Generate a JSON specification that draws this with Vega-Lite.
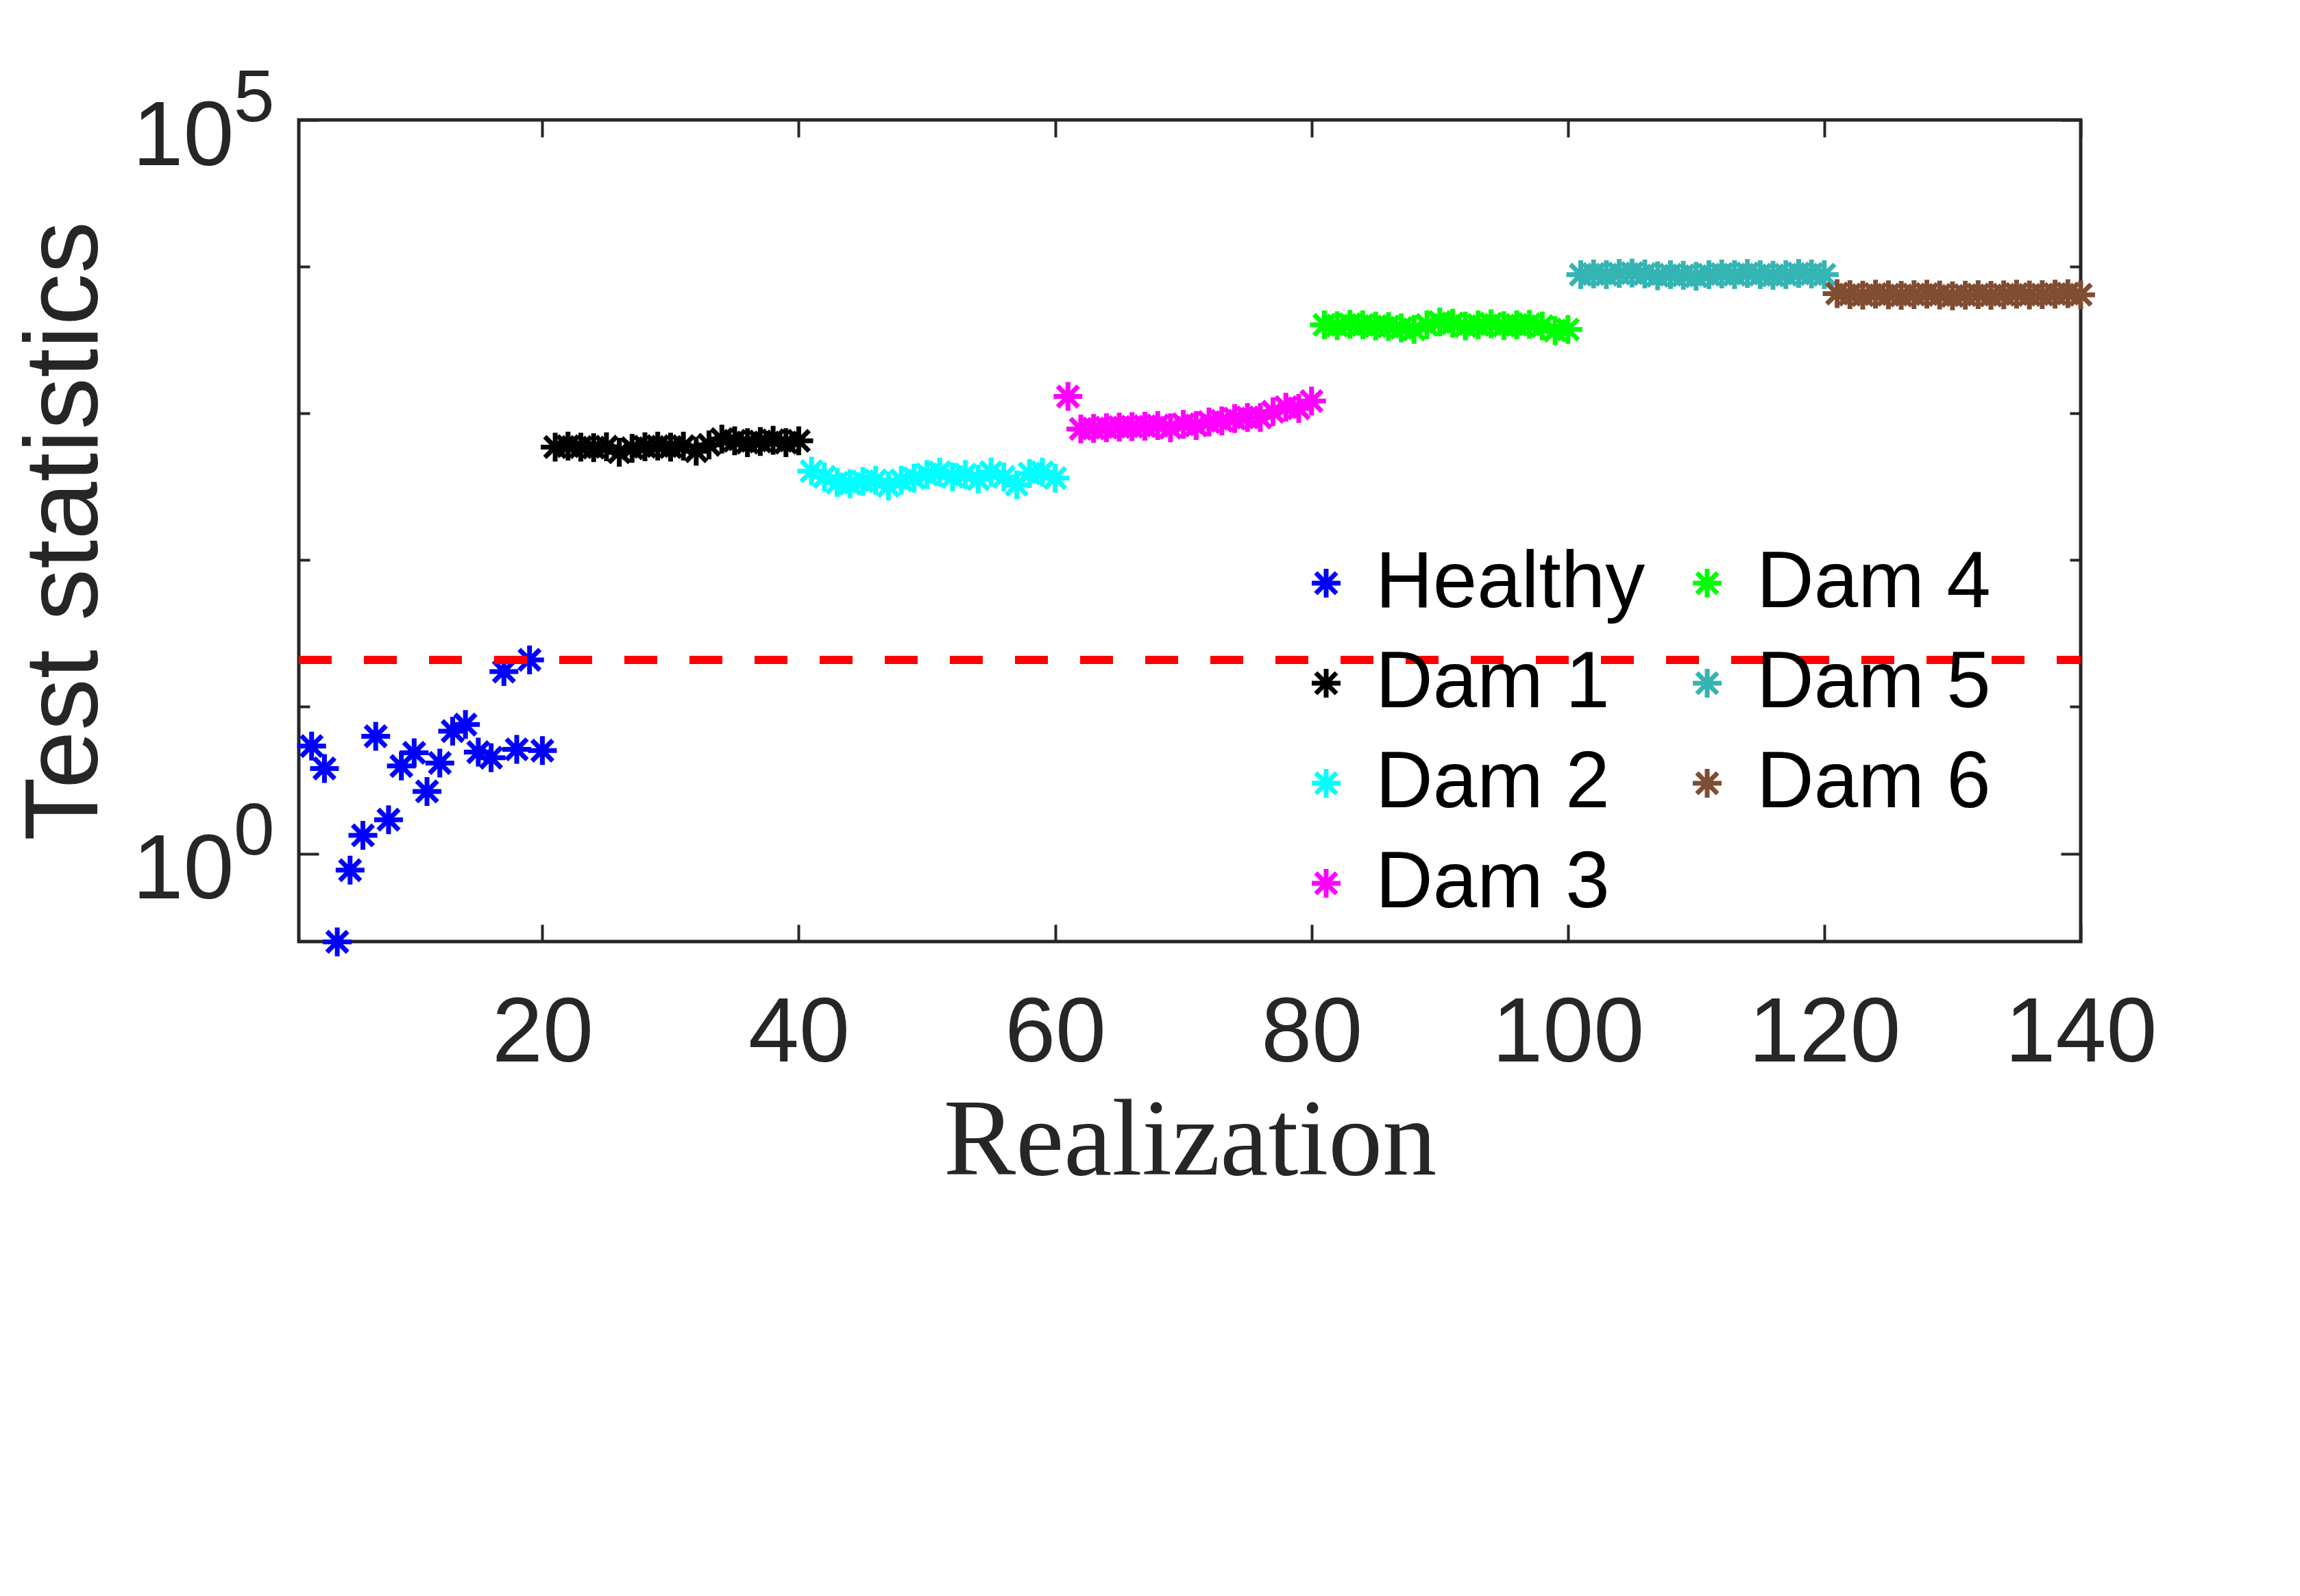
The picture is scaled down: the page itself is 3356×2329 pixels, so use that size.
{
  "$schema": "https://vega.github.io/schema/vega-lite/v6.json",
  "autosize": {"type": "none"},
  "padding": {"left": 436, "top": 175, "right": 320, "bottom": 955},
  "width": 2600,
  "height": 1199,
  "background": "white",
  "config": {
    "view": {"stroke": "#262626", "strokeWidth": 5},
    "font": "Liberation Sans",
    "axis": {
      "domain": false,
      "grid": false,
      "tickColor": "#262626",
      "tickWidth": 4,
      "labelColor": "#262626",
      "labelFont": "Liberation Sans",
      "labelFontSize": 133,
      "labelLimit": 1000,
      "labelFlush": false,
      "labelOverlap": false,
      "titleColor": "#262626",
      "titleLimit": 3000
    }
  },
  "data": {
    "values": [
      {"r": 2, "v": 5.4, "g": "Healthy"}, {"r": 3, "v": 3.8, "g": "Healthy"}, {"r": 4, "v": 0.25, "g": "Healthy"},
      {"r": 5, "v": 0.77, "g": "Healthy"}, {"r": 6, "v": 1.33, "g": "Healthy"}, {"r": 7, "v": 6.3, "g": "Healthy"},
      {"r": 8, "v": 1.7, "g": "Healthy"}, {"r": 9, "v": 3.95, "g": "Healthy"}, {"r": 10, "v": 4.86, "g": "Healthy"},
      {"r": 11, "v": 2.65, "g": "Healthy"}, {"r": 12, "v": 4.14, "g": "Healthy"}, {"r": 13, "v": 6.83, "g": "Healthy"},
      {"r": 14, "v": 7.57, "g": "Healthy"}, {"r": 15, "v": 4.91, "g": "Healthy"}, {"r": 16, "v": 4.5, "g": "Healthy"},
      {"r": 17, "v": 17.4, "g": "Healthy"}, {"r": 18, "v": 5.13, "g": "Healthy"}, {"r": 19, "v": 20.9, "g": "Healthy"},
      {"r": 20, "v": 5.03, "g": "Healthy"},
      {"r": 21, "v": 589, "g": "Dam 1"}, {"r": 22, "v": 598, "g": "Dam 1"}, {"r": 23, "v": 589, "g": "Dam 1"},
      {"r": 24, "v": 584, "g": "Dam 1"}, {"r": 25, "v": 592, "g": "Dam 1"}, {"r": 26, "v": 543, "g": "Dam 1"},
      {"r": 27, "v": 578, "g": "Dam 1"}, {"r": 28, "v": 592, "g": "Dam 1"}, {"r": 29, "v": 598, "g": "Dam 1"},
      {"r": 30, "v": 589, "g": "Dam 1"}, {"r": 31, "v": 598, "g": "Dam 1"}, {"r": 32, "v": 552, "g": "Dam 1"},
      {"r": 33, "v": 610, "g": "Dam 1"}, {"r": 34, "v": 667, "g": "Dam 1"}, {"r": 35, "v": 650, "g": "Dam 1"},
      {"r": 36, "v": 632, "g": "Dam 1"}, {"r": 37, "v": 643, "g": "Dam 1"}, {"r": 38, "v": 655, "g": "Dam 1"},
      {"r": 39, "v": 632, "g": "Dam 1"}, {"r": 40, "v": 650, "g": "Dam 1"},
      {"r": 41, "v": 404, "g": "Dam 2"}, {"r": 42, "v": 369, "g": "Dam 2"}, {"r": 43, "v": 337, "g": "Dam 2"},
      {"r": 44, "v": 331, "g": "Dam 2"}, {"r": 45, "v": 344, "g": "Dam 2"}, {"r": 46, "v": 350, "g": "Dam 2"},
      {"r": 47, "v": 320, "g": "Dam 2"}, {"r": 48, "v": 350, "g": "Dam 2"}, {"r": 49, "v": 362, "g": "Dam 2"},
      {"r": 50, "v": 383, "g": "Dam 2"}, {"r": 51, "v": 397, "g": "Dam 2"}, {"r": 52, "v": 369, "g": "Dam 2"},
      {"r": 53, "v": 383, "g": "Dam 2"}, {"r": 54, "v": 356, "g": "Dam 2"}, {"r": 55, "v": 397, "g": "Dam 2"},
      {"r": 56, "v": 369, "g": "Dam 2"}, {"r": 57, "v": 326, "g": "Dam 2"}, {"r": 58, "v": 389, "g": "Dam 2"},
      {"r": 59, "v": 397, "g": "Dam 2"}, {"r": 60, "v": 362, "g": "Dam 2"},
      {"r": 61, "v": 1303, "g": "Dam 3"}, {"r": 62, "v": 783, "g": "Dam 3"}, {"r": 63, "v": 789, "g": "Dam 3"},
      {"r": 64, "v": 798, "g": "Dam 3"}, {"r": 65, "v": 807, "g": "Dam 3"}, {"r": 66, "v": 812, "g": "Dam 3"},
      {"r": 67, "v": 818, "g": "Dam 3"}, {"r": 68, "v": 827, "g": "Dam 3"}, {"r": 69, "v": 798, "g": "Dam 3"},
      {"r": 70, "v": 842, "g": "Dam 3"}, {"r": 71, "v": 827, "g": "Dam 3"}, {"r": 72, "v": 873, "g": "Dam 3"},
      {"r": 73, "v": 889, "g": "Dam 3"}, {"r": 74, "v": 921, "g": "Dam 3"}, {"r": 75, "v": 938, "g": "Dam 3"},
      {"r": 76, "v": 938, "g": "Dam 3"}, {"r": 77, "v": 1026, "g": "Dam 3"}, {"r": 78, "v": 1102, "g": "Dam 3"},
      {"r": 79, "v": 1082, "g": "Dam 3"}, {"r": 80, "v": 1213, "g": "Dam 3"},
      {"r": 81, "v": 4008, "g": "Dam 4"}, {"r": 82, "v": 3964, "g": "Dam 4"}, {"r": 83, "v": 4050, "g": "Dam 4"},
      {"r": 84, "v": 4008, "g": "Dam 4"}, {"r": 85, "v": 3936, "g": "Dam 4"}, {"r": 86, "v": 3909, "g": "Dam 4"},
      {"r": 87, "v": 3826, "g": "Dam 4"}, {"r": 88, "v": 3733, "g": "Dam 4"}, {"r": 89, "v": 4008, "g": "Dam 4"},
      {"r": 90, "v": 4197, "g": "Dam 4"}, {"r": 91, "v": 4110, "g": "Dam 4"}, {"r": 92, "v": 3936, "g": "Dam 4"},
      {"r": 93, "v": 4008, "g": "Dam 4"}, {"r": 94, "v": 4083, "g": "Dam 4"}, {"r": 95, "v": 3964, "g": "Dam 4"},
      {"r": 96, "v": 4008, "g": "Dam 4"}, {"r": 97, "v": 4050, "g": "Dam 4"}, {"r": 98, "v": 3936, "g": "Dam 4"},
      {"r": 99, "v": 3664, "g": "Dam 4"}, {"r": 100, "v": 3733, "g": "Dam 4"},
      {"r": 101, "v": 8820, "g": "Dam 5"}, {"r": 102, "v": 8910, "g": "Dam 5"}, {"r": 103, "v": 8820, "g": "Dam 5"},
      {"r": 104, "v": 8980, "g": "Dam 5"}, {"r": 105, "v": 9040, "g": "Dam 5"}, {"r": 106, "v": 8910, "g": "Dam 5"},
      {"r": 107, "v": 8670, "g": "Dam 5"}, {"r": 108, "v": 8820, "g": "Dam 5"}, {"r": 109, "v": 8720, "g": "Dam 5"},
      {"r": 110, "v": 8600, "g": "Dam 5"}, {"r": 111, "v": 8820, "g": "Dam 5"}, {"r": 112, "v": 8910, "g": "Dam 5"},
      {"r": 113, "v": 8820, "g": "Dam 5"}, {"r": 114, "v": 8980, "g": "Dam 5"}, {"r": 115, "v": 8820, "g": "Dam 5"},
      {"r": 116, "v": 8720, "g": "Dam 5"}, {"r": 117, "v": 8820, "g": "Dam 5"}, {"r": 118, "v": 8980, "g": "Dam 5"},
      {"r": 119, "v": 8910, "g": "Dam 5"}, {"r": 120, "v": 8820, "g": "Dam 5"},
      {"r": 121, "v": 6550, "g": "Dam 6"}, {"r": 122, "v": 6450, "g": "Dam 6"}, {"r": 123, "v": 6390, "g": "Dam 6"},
      {"r": 124, "v": 6500, "g": "Dam 6"}, {"r": 125, "v": 6430, "g": "Dam 6"}, {"r": 126, "v": 6370, "g": "Dam 6"},
      {"r": 127, "v": 6450, "g": "Dam 6"}, {"r": 128, "v": 6500, "g": "Dam 6"}, {"r": 129, "v": 6410, "g": "Dam 6"},
      {"r": 130, "v": 6320, "g": "Dam 6"}, {"r": 131, "v": 6390, "g": "Dam 6"}, {"r": 132, "v": 6450, "g": "Dam 6"},
      {"r": 133, "v": 6370, "g": "Dam 6"}, {"r": 134, "v": 6430, "g": "Dam 6"}, {"r": 135, "v": 6500, "g": "Dam 6"},
      {"r": 136, "v": 6410, "g": "Dam 6"}, {"r": 137, "v": 6450, "g": "Dam 6"}, {"r": 138, "v": 6500, "g": "Dam 6"},
      {"r": 139, "v": 6550, "g": "Dam 6"}, {"r": 140, "v": 6430, "g": "Dam 6"}
    ]
  },
  "resolve": {"axis": {"x": "independent", "y": "independent"}},
  "layer": [
    {
      "mark": {
        "type": "point",
        "filled": false,
        "shape": "M0,-1L0,1M-1,0L1,0M-0.72,-0.72L0.72,0.72M-0.72,0.72L0.72,-0.72",
        "size": 1764,
        "strokeWidth": 7,
        "opacity": 1
      },
      "encoding": {
        "x": {
          "field": "r",
          "type": "quantitative",
          "scale": {"domain": [1, 140], "nice": false, "zero": false},
          "axis": {
            "orient": "bottom",
            "values": [20, 40, 60, 80, 100, 120, 140],
            "tickSize": -25,
            "labelPadding": 94,
            "title": "Realization",
            "titleFont": "Liberation Serif",
            "titleFontSize": 158,
            "titleFontWeight": "normal",
            "titlePadding": 14
          }
        },
        "y": {
          "field": "v",
          "type": "quantitative",
          "scale": {"type": "log", "domain": [0.2512, 100000], "nice": false},
          "axis": {
            "orient": "left",
            "values": [1, 10, 100, 1000, 10000, 100000],
            "labelExpr": "datum.value == 1 || datum.value == 100000 ? '10' : ''",
            "tickSize": {"condition": {"test": "datum.value == 1 || datum.value == 100000", "value": -29}, "value": -16},
            "labelPadding": 124,
            "labelOffset": 25,
            "labelBaseline": "middle",
            "title": "Test statistics",
            "titleFont": "Liberation Sans",
            "titleFontSize": 152,
            "titleFontWeight": "normal",
            "titlePadding": 63
          }
        },
        "color": {
          "field": "g",
          "type": "nominal",
          "scale": {
            "domain": ["Healthy", "Dam 1", "Dam 2", "Dam 3", "Dam 4", "Dam 5", "Dam 6"],
            "range": ["#0000ff", "#000000", "#00ffff", "#ff00ff", "#00ff00", "#35b4b4", "#804d33"]
          },
          "legend": {
            "orient": "none",
            "legendX": 1441,
            "legendY": 618,
            "columns": 2,
            "title": null,
            "padding": 0,
            "symbolType": "M0,-1L0,1M-1,0L1,0M-0.72,-0.72L0.72,0.72M-0.72,0.72L0.72,-0.72",
            "symbolSize": 1764,
            "symbolStrokeWidth": 7,
            "symbolFillColor": "transparent",
            "labelFont": "Liberation Sans",
            "labelFontSize": 116,
            "labelColor": "#000000",
            "labelOffset": 14,
            "rowPadding": 30,
            "columnPadding": 32,
            "labelLimit": 1000
          }
        }
      }
    },
    {
      "mark": {"type": "rule", "color": "#ff0000", "strokeWidth": 12, "strokeDash": [48, 47]},
      "encoding": {
        "x": {
          "datum": 1,
          "type": "quantitative",
          "axis": {
            "orient": "top",
            "values": [20, 40, 60, 80, 100, 120, 140],
            "tickSize": -25,
            "labels": false,
            "title": null
          }
        },
        "x2": {"datum": 140},
        "y": {
          "datum": 20.9,
          "type": "quantitative",
          "axis": {
            "orient": "right",
            "values": [1, 10, 100, 1000, 10000, 100000],
            "tickSize": {"condition": {"test": "datum.value == 1 || datum.value == 100000", "value": -29}, "value": -16},
            "labels": false,
            "title": null
          }
        }
      }
    },
    {
      "mark": {"type": "rule", "color": "#ff0000", "strokeWidth": 12, "strokeDash": [48, 47]},
      "encoding": {
        "x": {"datum": 1, "type": "quantitative", "axis": null},
        "x2": {"datum": 140},
        "y": {
          "datum": 20.9,
          "type": "quantitative",
          "axis": {
            "orient": "left",
            "values": [1, 100000],
            "labelExpr": "datum.value == 1 ? '0' : '5'",
            "ticks": false,
            "tickSize": 0,
            "labelFontSize": 107,
            "labelPadding": 36,
            "labelOffset": -31,
            "labelBaseline": "middle",
            "title": null
          }
        }
      }
    }
  ]
}
